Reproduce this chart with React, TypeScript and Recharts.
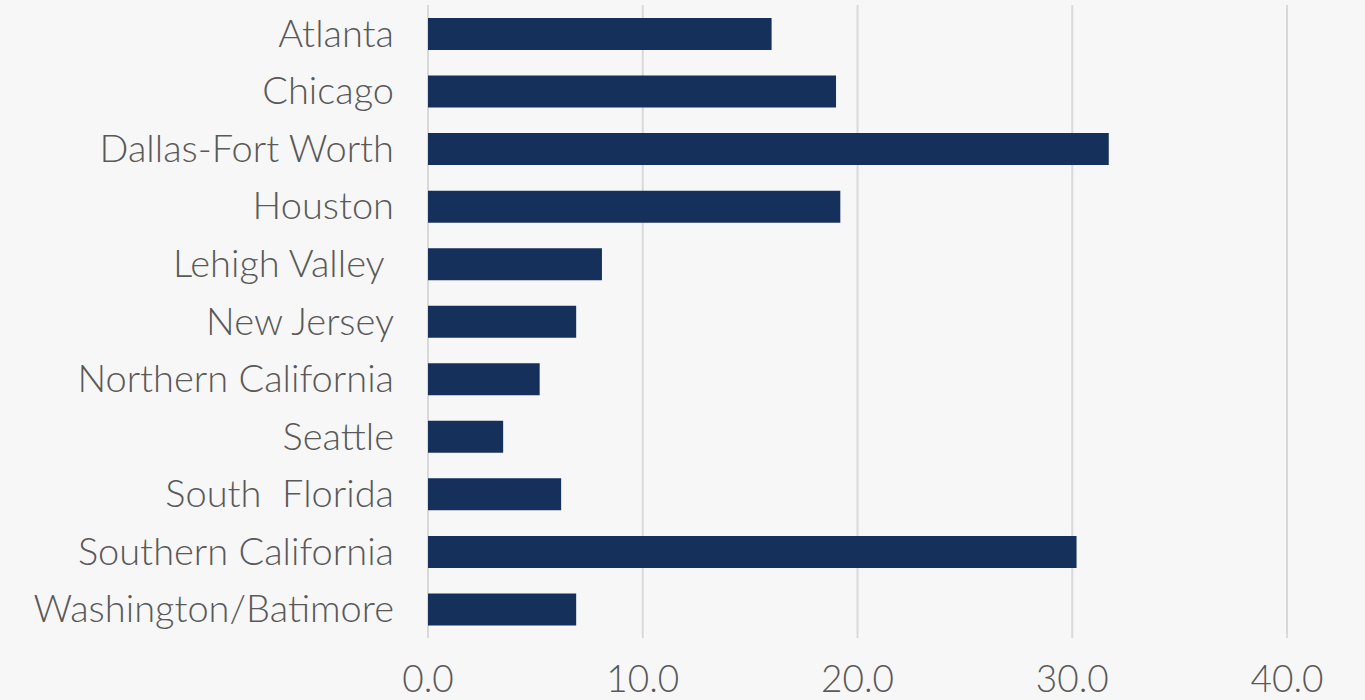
import React from 'react';
import { BarChart, Bar, XAxis, YAxis, CartesianGrid } from 'recharts';

const regions = [
  'Atlanta',
  'Chicago',
  'Dallas-Fort Worth',
  'Houston',
  'Lehigh Valley ',
  'New Jersey',
  'Northern California',
  'Seattle',
  'South  Florida',
  'Southern California',
  'Washington/Batimore',
];
const values = [16.0, 19.0, 31.7, 19.2, 8.1, 6.9, 5.2, 3.5, 6.2, 30.2, 6.9];
const xTicks = [0, 10, 20, 30, 40];

const data = regions.map((name, i) => ({ name, value: values[i] }));

const FONT = 'Lato, "Open Sans", sans-serif';
const TEXT = '#595959';

const YTick = (props: any) => {
  const { x, y, payload } = props;
  return (
    <text
      x={x - 34 + 8}
      y={y - 2}
      textAnchor="end"
      dominantBaseline="central"
      fill={TEXT}
      fontSize={38}
      fontWeight={300}
      fontFamily={FONT}
      style={{ whiteSpace: 'pre' }}
    >
      {payload.value}
    </text>
  );
};

const XTick = (props: any) => {
  const { x, y, payload } = props;
  return (
    <text
      x={x}
      y={y + 31}
      textAnchor="middle"
      dominantBaseline="central"
      fill={TEXT}
      fontSize={37}
      fontWeight={300}
      fontFamily={FONT}
    >
      {Number(payload.value).toFixed(1)}
    </text>
  );
};

export default function App() {
  return (
    <div style={{ position: 'absolute', left: 0, top: 0, width: 1365, height: 700, background: '#f7f7f7' }}>
      <BarChart
        width={1365}
        height={700}
        data={data}
        layout="vertical"
        margin={{ top: 5, right: 78, bottom: 0, left: 0 }}
        barSize={32}
      >
        <CartesianGrid horizontal={false} vertical stroke="#d9d9d9" strokeWidth={2} />
        <XAxis
          type="number"
          domain={[0, 40]}
          ticks={xTicks}
          axisLine={false}
          tickLine={false}
          height={62}
          tick={<XTick />}
          interval={0}
        />
        <YAxis
          type="category"
          dataKey="name"
          width={428}
          axisLine={false}
          tickLine={false}
          tick={<YTick />}
          interval={0}
        />
        <Bar dataKey="value" fill="#15305b" isAnimationActive={false} />
      </BarChart>
    </div>
  );
}
